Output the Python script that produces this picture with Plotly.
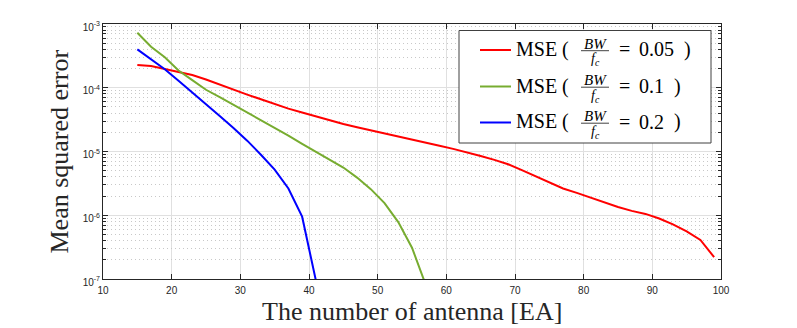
import plotly.graph_objects as go

# ---------------- data ----------------
antennas = list(range(15, 100, 2))

mse_bw005 = [2.28e-4, 2.19e-4, 1.97e-4, 1.78e-4, 1.58e-4, 1.35e-4, 1.12e-4, 9.2e-5,
             7.8e-5, 6.6e-5, 5.5e-5, 4.7e-5, 4.1e-5, 3.55e-5, 3.1e-5, 2.7e-5,
             2.4e-5, 2.14e-5, 1.9e-5, 1.7e-5, 1.51e-5, 1.35e-5, 1.23e-5, 1.1e-5,
             9.8e-6, 8.5e-6, 7.4e-6, 6.3e-6, 5.1e-6, 4.1e-6, 3.24e-6, 2.63e-6,
             2.24e-6, 1.9e-6, 1.58e-6, 1.35e-6, 1.17e-6, 1.05e-6, 8.9e-7, 7.2e-7,
             5.6e-7, 4.1e-7, 2.2e-7]

mse_bw01 = [7.3e-4, 4.4e-4, 3.0e-4, 1.86e-4, 1.32e-4, 9.3e-5, 7.1e-5, 5.4e-5,
            4.1e-5, 3.16e-5, 2.4e-5, 1.78e-5, 1.32e-5, 1.0e-5, 7.6e-6, 5.6e-6,
            3.9e-6, 2.57e-6, 1.55e-6, 7.8e-7, 3.1e-7, 8.1e-8]

mse_bw02 = [4.0e-4, 2.8e-4, 1.95e-4, 1.29e-4, 8.5e-5, 5.6e-5, 3.6e-5, 2.34e-5,
            1.48e-5, 8.9e-6, 5.2e-6, 2.63e-6, 9.5e-7, 9.5e-8]

series_names = ["MSE ( BW/fc = 0.05 )", "MSE ( BW/fc = 0.1 )", "MSE ( BW/fc = 0.2 )"]
series_ratio = ["0.05", "0.1", "0.2"]
series_colors = ["#ff0000", "#77ac30", "#0000ff"]

x_ticks = [10, 20, 30, 40, 50, 60, 70, 80, 90, 100]
y_ticks = [1e-7, 1e-6, 1e-5, 1e-4, 1e-3]
y_ticktext = ["10<sup>-7</sup>", "10<sup>-6</sup>", "10<sup>-5</sup>",
              "10<sup>-4</sup>", "10<sup>-3</sup>"]
y_minor = [m * 10.0 ** e for e in range(-7, -3) for m in range(2, 10)]

# ---------------- layout geometry (window pixels) ----------------
W, H = 797, 328
L, R, T, B = 103, 721, 24, 279   # plot area in window pixels

def px(X):
    return (X - L) / (R - L)

def py(Y):
    return (B - Y) / (B - T)

AX = "#262626"
fig = go.Figure()

all_y = [mse_bw005, mse_bw01, mse_bw02]
for name, ys, col in zip(series_names, all_y, series_colors):
    fig.add_trace(go.Scatter(
        x=antennas[:len(ys)], y=ys, mode="lines", name=name,
        line=dict(color=col, width=2), showlegend=False,
    ))

# invisible trace that carries the minor-grid axis
fig.add_trace(go.Scatter(x=[10, 100], y=[1e-7, 1e-3], yaxis="y2", mode="lines",
                         line=dict(width=0, color="rgba(0,0,0,0)"),
                         showlegend=False, hoverinfo="skip"))

tickfont = dict(family="Liberation Sans, Arial, sans-serif", size=10, color=AX)

fig.update_layout(
    xaxis=dict(
        range=[10, 100], tickvals=x_ticks, ticktext=[str(v) for v in x_ticks],
        showline=True, linecolor=AX, linewidth=1, mirror="ticks",
        ticks="inside", ticklen=5, tickcolor=AX, tickwidth=1,
        showgrid=True, gridcolor="#e0e0e0", gridwidth=1,
        zeroline=False, tickfont=tickfont, ticklabelstandoff=2,
    ),
    yaxis2=dict(
        type="log", range=[-7, -3], overlaying="y", side="left",
        tickvals=y_minor, showticklabels=False,
        showline=True, linecolor=AX, linewidth=1, mirror="ticks",
        ticks="inside", ticklen=3, tickcolor=AX, tickwidth=1,
        showgrid=True, gridcolor="#c8c8c8", griddash="1px,3px", gridwidth=1,
        zeroline=False,
    ),
    yaxis=dict(
        type="log", range=[-7, -3], tickvals=y_ticks, ticktext=y_ticktext,
        showline=True, linecolor=AX, linewidth=1, mirror="ticks",
        ticks="inside", ticklen=5, tickcolor=AX, tickwidth=1,
        showgrid=True, gridcolor="#e0e0e0", gridwidth=1,
        zeroline=False, tickfont=tickfont, ticklabelshift=3,
    ),
)

serif = "Liberation Serif, Times New Roman, serif"
annotations = [
    dict(text="The number of antenna [EA]", x=0.5, y=py(311), xref="paper", yref="paper",
         xanchor="center", yanchor="middle", showarrow=False,
         font=dict(family=serif, size=26, color=AX)),
    dict(text="Mean squared error", x=px(59), y=0.5, xref="paper", yref="paper",
         xanchor="center", yanchor="middle", showarrow=False, textangle=-90,
         font=dict(family=serif, size=26, color=AX)),
]

shapes = [
    dict(type="rect", xref="paper", yref="paper", x0=px(459), x1=px(711), y0=py(143), y1=py(30.5),
         fillcolor="white", line=dict(color="#404040", width=1), layer="above"),
]

def ann(text, x, y, size, anchor="left"):
    return dict(text=text, x=px(x), y=py(y), xref="paper", yref="paper",
                xanchor=anchor, yanchor="middle", showarrow=False,
                font=dict(family=serif, size=size, color="black"))

rows = [50, 86.5, 122.5]
close_x = [682, 672, 672]
for ry, col, ratio, cx in zip(rows, series_colors, series_ratio, close_x):
    shapes.append(dict(type="line", xref="paper", yref="paper", x0=px(480), x1=px(511),
                       y0=py(ry), y1=py(ry), line=dict(color=col, width=2), layer="above"))
    shapes.append(dict(type="line", xref="paper", yref="paper", x0=px(581), x1=px(609),
                       y0=py(ry + 0.7), y1=py(ry + 0.7), line=dict(color="#111111", width=0.8),
                       layer="above"))
    annotations += [
        ann("MSE (", 514, ry - 0.5, 20),
        ann("<i>BW</i>", 595.5, ry - 6.2, 15, "center"),
        ann("<i>f</i><sub><i>c</i></sub>", 595, ry + 9.5, 14, "center"),
        ann("=", 617, ry - 0.5, 20),
        ann(ratio, 637, ry - 0.5, 20),
        ann(")", cx, ry - 0.5, 20),
    ]

fig.update_layout(
    width=W, height=H,
    margin=dict(l=L, r=W - R, t=T, b=H - B, pad=0),
    paper_bgcolor="white", plot_bgcolor="white",
    annotations=annotations, shapes=shapes,
)

fig.write_html("out.html", config={"displayModeBar": False},
               post_script="document.body.style.margin='0px';")
